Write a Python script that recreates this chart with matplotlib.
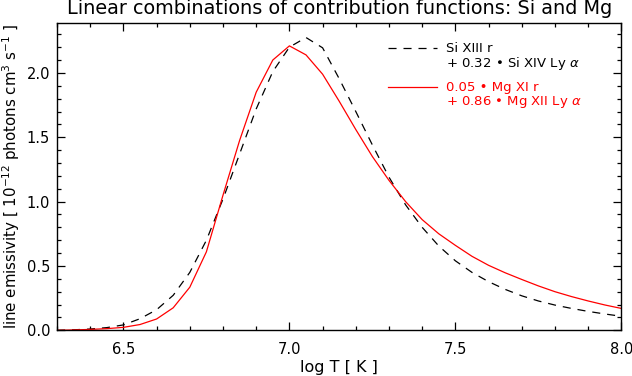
import numpy as np
import matplotlib
matplotlib.use("Agg")
import matplotlib.pyplot as plt
from matplotlib.lines import Line2D
from matplotlib.ticker import MultipleLocator, FormatStrFormatter

plt.rcParams['font.family'] = ['DejaVu Sans']
plt.rcParams['mathtext.fontset'] = 'dejavusans'
plt.rcParams['lines.scale_dashes'] = False

log_t = [6.30, 6.35, 6.40, 6.45, 6.50, 6.55, 6.60, 6.65, 6.70, 6.75,
         6.80, 6.85, 6.90, 6.95, 7.00, 7.05, 7.10, 7.15, 7.20, 7.25,
         7.30, 7.35, 7.40, 7.45, 7.50, 7.55, 7.60, 7.65, 7.70, 7.75,
         7.80, 7.85, 7.90, 7.95, 8.00]

si_combo = [0.000, 0.004, 0.010, 0.021, 0.042, 0.090, 0.160, 0.272, 0.450, 0.700,
            1.020, 1.370, 1.720, 2.010, 2.200, 2.275, 2.195, 1.955, 1.700, 1.440,
            1.190, 0.975, 0.800, 0.655, 0.540, 0.450, 0.378, 0.318, 0.268, 0.228,
            0.196, 0.170, 0.147, 0.127, 0.109]

mg_combo = [0.000, 0.003, 0.007, 0.013, 0.023, 0.045, 0.088, 0.175, 0.335, 0.610,
            1.050, 1.475, 1.850, 2.100, 2.210, 2.140, 1.990, 1.780, 1.560, 1.350,
            1.165, 1.000, 0.860, 0.750, 0.660, 0.575, 0.505, 0.447, 0.395, 0.345,
            0.300, 0.262, 0.228, 0.197, 0.170]

si_label = ["Si XIII r", "+ 0.32 \u2022 Si XIV Ly $\\alpha$"]
mg_label = ["0.05 \u2022 Mg XI r", "+ 0.86 \u2022 Mg XII Ly $\\alpha$"]

title = "Linear combinations of contribution functions: Si and Mg"
xlabel = "log T [ K ]"
ylabel = "line emissivity [ 10$^{-12}$ photons cm$^{3}$ s$^{-1}$ ]"

DASH = (5.8, 5.0)

fig = plt.figure(figsize=(6.32, 3.76), dpi=100)
ax = fig.add_axes([0.0902, 0.1215, 0.8930, 0.8181])

ax.plot(log_t, si_combo, color='black', lw=0.9, dashes=DASH)
ax.plot(log_t, mg_combo, color='red', lw=0.9)

ax.set_xlim(6.3, 8.0)
ax.set_ylim(0, 2.39)
ax.xaxis.set_major_locator(MultipleLocator(0.5))
ax.xaxis.set_minor_locator(MultipleLocator(0.1))
ax.yaxis.set_major_locator(MultipleLocator(0.5))
ax.yaxis.set_minor_locator(MultipleLocator(0.1))
ax.xaxis.set_major_formatter(FormatStrFormatter('%.1f'))
ax.yaxis.set_major_formatter(FormatStrFormatter('%.1f'))
ax.tick_params(which='both', direction='in', top=True, right=True, width=0.9,
               labelsize=10.5, color='black')
ax.tick_params(which='major', length=6)
ax.tick_params(which='minor', length=3.2)
ax.tick_params(axis='x', which='major', pad=8.5)
ax.tick_params(axis='y', which='major', pad=5)
for s in ax.spines.values():
    s.set_linewidth(1.0)

ax.set_title(title, fontsize=13.9, pad=6)
ax.set_xlabel(xlabel, fontsize=11.5)
ax.xaxis.set_label_coords(0.5, -0.097)
ax.set_ylabel(ylabel, fontsize=10.8)
ax.yaxis.set_label_coords(-0.0625, 0.5)

# legend keys and labels (axes-fraction layout)
tr = ax.transAxes
ax.add_line(Line2D([0.5865, 0.6733], [0.9168, 0.9168], transform=tr,
                   color='black', lw=0.9, dashes=DASH))
ax.add_line(Line2D([0.5865, 0.6733], [0.7910, 0.7910], transform=tr,
                   color='red', lw=0.9))
leg_fs = 9.5
ax.text(0.6892, 0.8573, "\n".join(si_label), transform=tr, fontsize=leg_fs,
        color='black', va='baseline', ha='left', linespacing=0.96)
ax.text(0.6892, 0.7324, "\n".join(mg_label), transform=tr, fontsize=leg_fs,
        color='red', va='baseline', ha='left', linespacing=0.96)

fig.savefig('out.png', dpi=100)
